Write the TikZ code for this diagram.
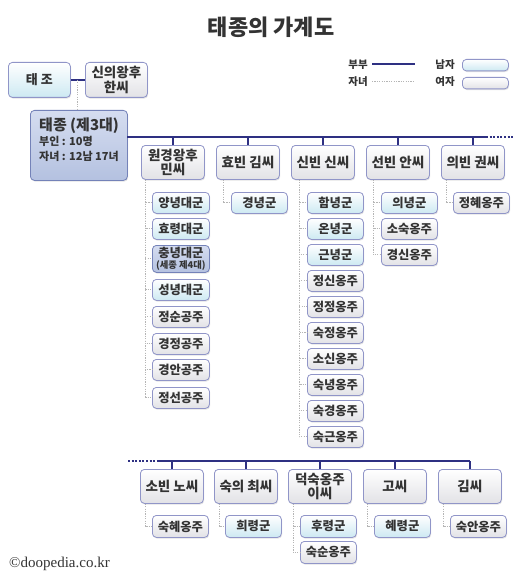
\documentclass[tikz,border=0pt]{standalone}
\usepackage{fontspec}
\newfontfamily\kr{Noto Sans CJK KR}
\newfontfamily\ser{Liberation Serif}
\usetikzlibrary{calc,shadows}
\definecolor{navy}{HTML}{2E3082}
\definecolor{bord}{HTML}{9095C8}
\definecolor{malec}{HTML}{CDE9F2}
\definecolor{femc}{HTML}{E2E2E6}
\definecolor{kingt}{HTML}{D5DDF0}
\definecolor{kingb}{HTML}{B4C1E0}
\definecolor{kingd}{HTML}{7482B8}
\definecolor{txt}{HTML}{333333}
\definecolor{dotc}{HTML}{B5B5B5}
\tikzset{
 box/.style={rounded corners=4pt, draw=bord, line width=0.8pt, inner sep=0pt, text=txt,
   anchor=north west, align=center,
   drop shadow={shadow xshift=0.8pt, shadow yshift=-1.2pt, opacity=0.22}},
 kidfont/.style={font=\kr\bfseries\fontsize{12.3}{13}\selectfont},
 malebox/.style={box, kidfont, top color=white, bottom color=malec, minimum width=56pt, minimum height=21pt},
 fembox/.style={box, kidfont, top color=white, bottom color=femc, minimum width=56pt, minimum height=21pt},
 spbox/.style={box, top color=white, bottom color=femc, minimum width=63pt, minimum height=34pt,
   font=\kr\bfseries\fontsize{13.5}{14.5}\selectfont},
 kingbox/.style={box, top color=kingt, bottom color=kingb, draw=kingd},
 spl/.style={draw=navy, line width=2pt},
 spldots/.style={draw=navy, line width=2pt, dash pattern=on 2pt off 1.6pt},
 kid/.style={draw=dotc, line width=1pt, dash pattern=on 1.2pt off 1.2pt},
 lab/.style={text=txt, font=\kr\bfseries\fontsize{10.5}{12}\selectfont, inner sep=0pt},
}
\begin{document}
\begin{tikzpicture}[x=1pt,y=-1pt]
\fill[white] (0,0) rectangle (530,575);
\useasboundingbox (0,0) rectangle (530,575);

% title
\node[text=txt, font=\kr\bfseries\fontsize{22}{24}\selectfont, inner sep=0pt] (title) at (271,27) {태종의 가계도};

% legend
\node[lab, anchor=east] (lg1) at (368,65) {부부};
\node[lab, anchor=east] (lg2) at (368,82) {자녀};
\coordinate (lg1a) at (372,64); \coordinate (lg1b) at (415,64);
\coordinate (lg2a) at (372,82); \coordinate (lg2b) at (415,82);
\draw[spl] (lg1a) -- (lg1b);
\draw[kid] (lg2a) -- (lg2b);
\node[lab, anchor=east] (lg3) at (455,65) {남자};
\node[lab, anchor=east] (lg4) at (455,82) {여자};
\node[box, top color=white, bottom color=malec, minimum width=46pt, minimum height=11.5pt, drop shadow={opacity=0}] (lgm) at (462,59) {};
\node[box, top color=white, bottom color=femc, minimum width=46pt, minimum height=11.5pt, drop shadow={opacity=0}] (lgf) at (462,77) {};

% grandparents
\node[box, top color=white, bottom color=malec, minimum width=62pt, minimum height=35pt,
  font=\kr\bfseries\fontsize{13}{14}\selectfont] (taejo) at (8,62) {태 조};
\node[spbox, minimum width=62pt, minimum height=35pt] (sinui) at (85,62) {신의왕후\\한씨};
\draw[spl] (taejo.east) -- (sinui.west);
\coordinate (m0) at ($(taejo.east)!0.5!(sinui.west)$);

% Taejong
\node[kingbox, minimum width=97pt, minimum height=70pt] (tj) at (30,110) {};
\node[text=txt, anchor=north west, inner sep=0pt, align=left, font=\kr\bfseries\fontsize{11}{15}\selectfont] (tjt) at (39,118)
  {{\fontsize{15}{17}\selectfont 태종 (제3대)}\\[0pt] 부인 : 10명\\ 자녀 : 12남 17녀};
\draw[kid] (m0) -- (m0 |- tj.north);

% row 1 line
\coordinate (r1s) at (127,137);
\coordinate (r1e) at (486,137);
\coordinate (r1d) at (514,137);
\draw[spl] (r1s) -- (r1e);
\draw[spldots] (r1e) -- (r1d);

% row 1 spouses
\node[spbox] (s1) at (141,145) {원경왕후\\민씨};
\node[spbox] (s2) at (216,145) {효빈 김씨};
\node[spbox] (s3) at (291,145) {신빈 신씨};
\node[spbox] (s4) at (366,145) {선빈 안씨};
\node[spbox] (s5) at (441,145) {의빈 권씨};
\foreach \s in {s1,s2,s3,s4,s5} \draw[spl] (\s.north) -- (\s.north |- r1s);

% column 1
\node[malebox, minimum width=57pt] (a1) at (152,192) {양녕대군};
\node[malebox, minimum width=57pt] (a2) at (152,218) {효령대군};
\node[kingbox, minimum width=57pt, minimum height=27pt, font=\kr\bfseries\fontsize{12.3}{11}\selectfont] (a3) at (152,245)
  {충녕대군\\[-0.5pt]{\fontsize{9.3}{9}\selectfont (세종 제4대)}};
\node[malebox, minimum width=57pt] (a4) at (152,279) {성녕대군};
\node[fembox, minimum width=57pt] (a5) at (152,306) {정순공주};
\node[fembox, minimum width=57pt] (a6) at (152,333) {경정공주};
\node[fembox, minimum width=57pt] (a7) at (152,359) {경안공주};
\node[fembox, minimum width=57pt] (a8) at (152,387) {정선공주};
\coordinate (v1) at ($(a1.west)+(-7,0)$);
\foreach \c in {a1,a2,a3,a4,a5,a6,a7,a8} \draw[kid] (s1.south -| v1) |- (\c.west);

% column 2
\node[malebox] (b1) at (231,192) {경녕군};
\coordinate (v2) at ($(b1.west)+(-8,0)$);
\draw[kid] (s2.south -| v2) |- (b1.west);

% column 3
\node[malebox] (c1) at (307,192) {함녕군};
\node[malebox] (c2) at (307,218) {온녕군};
\node[malebox] (c3) at (307,244) {근녕군};
\node[fembox] (c4) at (307,270) {정신옹주};
\node[fembox] (c5) at (307,296) {정정옹주};
\node[fembox] (c6) at (307,322) {숙정옹주};
\node[fembox] (c7) at (307,348) {소신옹주};
\node[fembox] (c8) at (307,374) {숙녕옹주};
\node[fembox] (c9) at (307,400) {숙경옹주};
\node[fembox] (c10) at (307,426) {숙근옹주};
\coordinate (v3) at ($(c1.west)+(-8,0)$);
\foreach \c in {c1,c2,c3,c4,c5,c6,c7,c8,c9,c10} \draw[kid] (s3.south -| v3) |- (\c.west);

% column 4
\node[malebox] (d1) at (381,192) {의녕군};
\node[fembox] (d2) at (381,218) {소숙옹주};
\node[fembox] (d3) at (381,244) {경신옹주};
\coordinate (v4) at ($(d1.west)+(-8,0)$);
\foreach \c in {d1,d2,d3} \draw[kid] (s4.south -| v4) |- (\c.west);

% column 5
\node[fembox] (e1) at (453,192) {정혜옹주};
\coordinate (v5) at ($(e1.west)+(-7,0)$);
\draw[kid] (s5.south -| v5) |- (e1.west);

% row 2 line
\coordinate (r2d) at (128,461);
\coordinate (r2s) at (158,461);
\node[spbox] (t1) at (140,469) {소빈 노씨};
\node[spbox] (t2) at (214,469) {숙의 최씨};
\node[spbox] (t3) at (288,469) {덕숙옹주\\이씨};
\node[spbox] (t4) at (363,469) {고씨};
\node[spbox] (t5) at (438,469) {김씨};
\draw[spldots] (r2d) -- (r2s);
\draw[spl] (r2s) -- (t5.north |- r2s);
\foreach \s in {t1,t2,t3,t4,t5} \draw[spl] (\s.north) -- (\s.north |- r2s);

% row 2 children
\node[fembox, minimum height=22pt] (f1) at (152,515) {숙혜옹주};
\node[malebox, minimum height=22pt] (g1) at (225,515) {희령군};
\node[malebox, minimum height=22pt] (h1) at (300,515) {후령군};
\node[fembox, minimum height=22pt] (h2) at (300,541) {숙순옹주};
\node[malebox, minimum height=22pt] (i1) at (374,515) {혜령군};
\node[fembox, minimum height=22pt] (j1) at (450,515) {숙안옹주};
\coordinate (w1) at ($(f1.west)+(-7,0)$);
\coordinate (w2) at ($(g1.west)+(-6,0)$);
\coordinate (w3) at ($(h1.west)+(-7,0)$);
\coordinate (w4) at ($(i1.west)+(-7,0)$);
\coordinate (w5) at ($(j1.west)+(-7,0)$);
\draw[kid] (t1.south -| w1) |- (f1.west);
\draw[kid] (t2.south -| w2) |- (g1.west);
\draw[kid] (t3.south -| w3) |- (h1.west);
\draw[kid] (t3.south -| w3) |- (h2.west);
\draw[kid] (t4.south -| w4) |- (i1.west);
\draw[kid] (t5.south -| w5) |- (j1.west);

% copyright
\node[text=txt, anchor=west, inner sep=0pt, font=\ser\fontsize{15}{16}\selectfont] (copy) at (9,564) {©doopedia.co.kr};
\end{tikzpicture}
\end{document}
